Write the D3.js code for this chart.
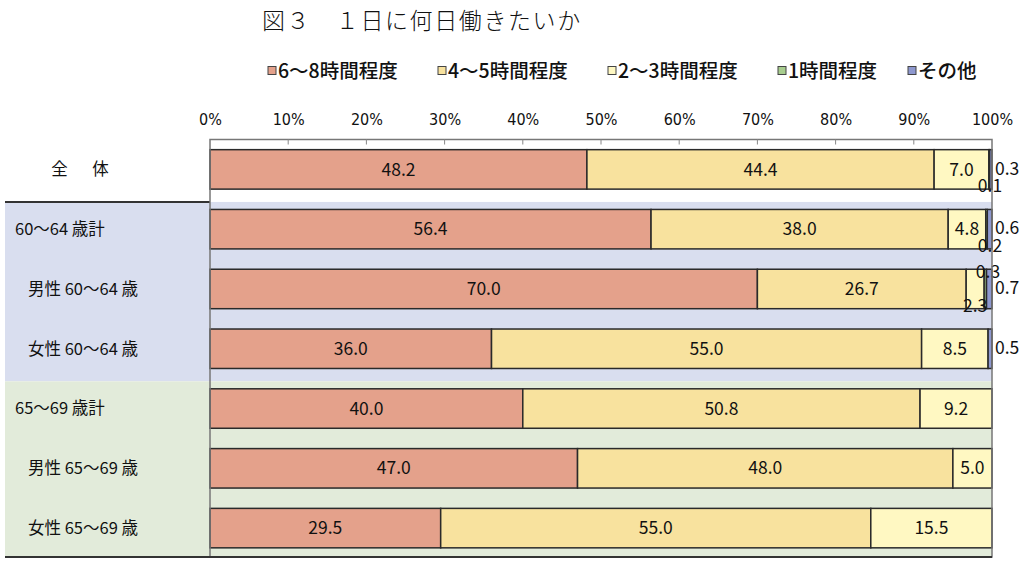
<!DOCTYPE html>
<html>
<head>
<meta charset="utf-8">
<script src="https://cdn.jsdelivr.net/npm/d3@7"></script>
<style>
  body { margin: 0; background: #fff; }
  text { font-family: "Noto Sans CJK JP", "Noto Sans", sans-serif; fill: #111; }
</style>
</head>
<body>
<div id="chart"></div>
<script>
// data
var categories = ["全　体", "60～64 歳計", "男性 60～64 歳", "女性 60～64 歳", "65～69 歳計", "男性 65～69 歳", "女性 65～69 歳"];
var seriesNames = ["6～8時間程度", "4～5時間程度", "2～3時間程度", "1時間程度", "その他"];
var hours6to8 = [48.2, 56.4, 70.0, 36.0, 40.0, 47.0, 29.5];
var hours4to5 = [44.4, 38.0, 26.7, 55.0, 50.8, 48.0, 55.0];
var hours2to3 = [7.0, 4.8, 2.3, 8.5, 9.2, 5.0, 15.5];
var hours1 = [0.1, 0.2, 0.3, 0, 0, 0, 0];
var other = [0.3, 0.6, 0.7, 0.5, 0, 0, 0];
var tickValues = [0, 10, 20, 30, 40, 50, 60, 70, 80, 90, 100];
var groups = [
  {name: "60-64", rows: [1, 3], color: "#d9deef"},
  {name: "65-69", rows: [4, 6], color: "#e2ebda"}
];

var colors = ["#e4a18b", "#f8e29e", "#fff8c2", "#a8cd8e", "#8e98cf"];

// where the tiny labels go (row|series)
var labelPlace = {"0|3": "below", "0|4": "right", "1|3": "below", "1|4": "right",
                  "2|3": "above", "2|2": "below", "2|4": "right", "3|4": "right"};

var svgWidth = 1024, svgHeight = 562;
var margin = {top: 139.5, left: 210, right: 32, bottom: 4};
var width = svgWidth - margin.left - margin.right;
var height = 558 - margin.top;

var table = categories.map(function(c, i) {
  return {cat: c, i: i, s0: hours6to8[i], s1: hours4to5[i], s2: hours2to3[i], s3: hours1[i], s4: other[i]};
});
var keys = ["s0", "s1", "s2", "s3", "s4"];
var stacked = d3.stack().keys(keys)(table);

var svg = d3.select("#chart").append("svg")
  .attr("width", svgWidth)
  .attr("height", svgHeight);

var x = d3.scaleLinear().domain([0, 100]).range([margin.left, margin.left + width]);
var y = d3.scaleBand().domain(d3.range(categories.length))
  .range([margin.top, margin.top + height])
  .paddingInner(0.34).paddingOuter(0.17);

// title
svg.append("text")
  .attr("x", 262).attr("y", 29)
  .style("font-size", "23px").style("font-weight", 300)
  .attr("letter-spacing", 1.6)
  .text("図３　１日に何日働きたいか");

// legend
var legendX = [268, 438, 608, 778, 908];
var lg = svg.append("g").selectAll("g").data(seriesNames).join("g")
  .attr("transform", function(d, i) { return "translate(" + legendX[i] + ",71)"; });
lg.append("rect").attr("x", 0).attr("y", -4.5).attr("width", 8).attr("height", 8)
  .attr("fill", function(d, i) { return colors[i]; })
  .attr("stroke", "#444").attr("stroke-width", 1);
lg.append("text").attr("x", 10).attr("dy", "0.36em")
  .style("font-size", "19.5px").style("font-weight", 500)
  .text(function(d) { return d; });

// group bands (left panel + plot)
var bandTop = function(r) { return y(r) - 7.5; };
groups.forEach(function(g, gi) {
  var top = bandTop(g.rows[0]);
  var bottom = gi < groups.length - 1 ? bandTop(groups[gi + 1].rows[0]) : 557;
  svg.append("rect")
    .attr("x", 5).attr("y", top)
    .attr("width", x(100) - 5).attr("height", bottom - top)
    .attr("fill", g.color);
});

// separator lines
svg.append("line")
  .attr("x1", 5).attr("x2", margin.left)
  .attr("y1", bandTop(1)).attr("y2", bandTop(1))
  .attr("stroke", "#333").attr("stroke-width", 2);

// bars
var layer = svg.append("g").selectAll("g").data(stacked).join("g")
  .attr("fill", function(d, i) { return colors[i]; });
layer.selectAll("rect").data(function(d) { return d; }).join("rect")
  .filter(function(d) { return d[1] - d[0] > 0; })
  .attr("x", function(d) { return x(d[0]); })
  .attr("y", function(d, i) { return y(d.data.i); })
  .attr("width", function(d) { return x(d[1]) - x(d[0]); })
  .attr("height", y.bandwidth())
  .attr("stroke", "#2a2a2a").attr("stroke-width", 1.5);

// value labels
stacked.forEach(function(s, si) {
  s.forEach(function(d) {
    var v = d[1] - d[0];
    if (v <= 0) return;
    var r = d.data.i;
    var place = labelPlace[r + "|" + si] || "center";
    var cx = (x(d[0]) + x(d[1])) / 2, cy = y(r) + y.bandwidth() / 2, anchor = "middle";
    if (place == "right") { cx = x(100) + 3; cy -= 1; anchor = "start"; }
    if (place == "below") { cy = y(r) + y.bandwidth() - 3; cx = si == 3 ? x(100) - 2 : cx; }
    if (place == "above") { cy = y(r) + 3; cx = x(100) - 4; }
    svg.append("text")
      .attr("x", cx).attr("y", cy).attr("dy", "0.35em")
      .attr("text-anchor", anchor)
      .style("font-size", "17.5px")
      .text(v.toFixed(1));
  });
});

// plot frame
svg.append("rect")
  .attr("x", x(0)).attr("y", margin.top)
  .attr("width", x(100) - x(0)).attr("height", 557 - margin.top)
  .attr("fill", "none").attr("stroke", "#777").attr("stroke-width", 1.5);
svg.append("line")
  .attr("x1", 5).attr("x2", x(100))
  .attr("y1", 557).attr("y2", 557)
  .attr("stroke", "#333").attr("stroke-width", 2);

// top axis
var axis = svg.append("g")
  .attr("transform", "translate(0," + margin.top + ")")
  .call(d3.axisTop(x).tickValues(tickValues).tickSize(0).tickPadding(15)
    .tickFormat(function(d) { return d + "%"; }));
axis.select(".domain").remove();
axis.selectAll("text")
  .style("font-size", "16px")
  .style("font-family", "'Liberation Sans Narrow', 'DejaVu Sans Condensed', 'Noto Sans CJK JP', sans-serif")
  .attr("fill", "#111");
svg.append("g").selectAll("line").data(tickValues.slice(1, -1)).join("line")
  .attr("x1", function(d) { return x(d); }).attr("x2", function(d) { return x(d); })
  .attr("y1", margin.top).attr("y2", margin.top + 5)
  .attr("stroke", "#888");

// row labels
svg.append("g").selectAll("text").data(categories).join("text")
  .attr("x", function(d, i) { return i == 0 ? 82 : (/計$/.test(d) ? 15 : 28); })
  .attr("y", function(d, i) { return y(i) + y.bandwidth() / 2; })
  .attr("dy", "0.35em")
  .attr("text-anchor", function(d, i) { return i == 0 ? "middle" : "start"; })
  .attr("letter-spacing", function(d, i) { return i == 0 ? 4 : 0; })
  .style("font-size", "16.5px")
  .text(function(d) { return d; });
</script>
</body>
</html>
